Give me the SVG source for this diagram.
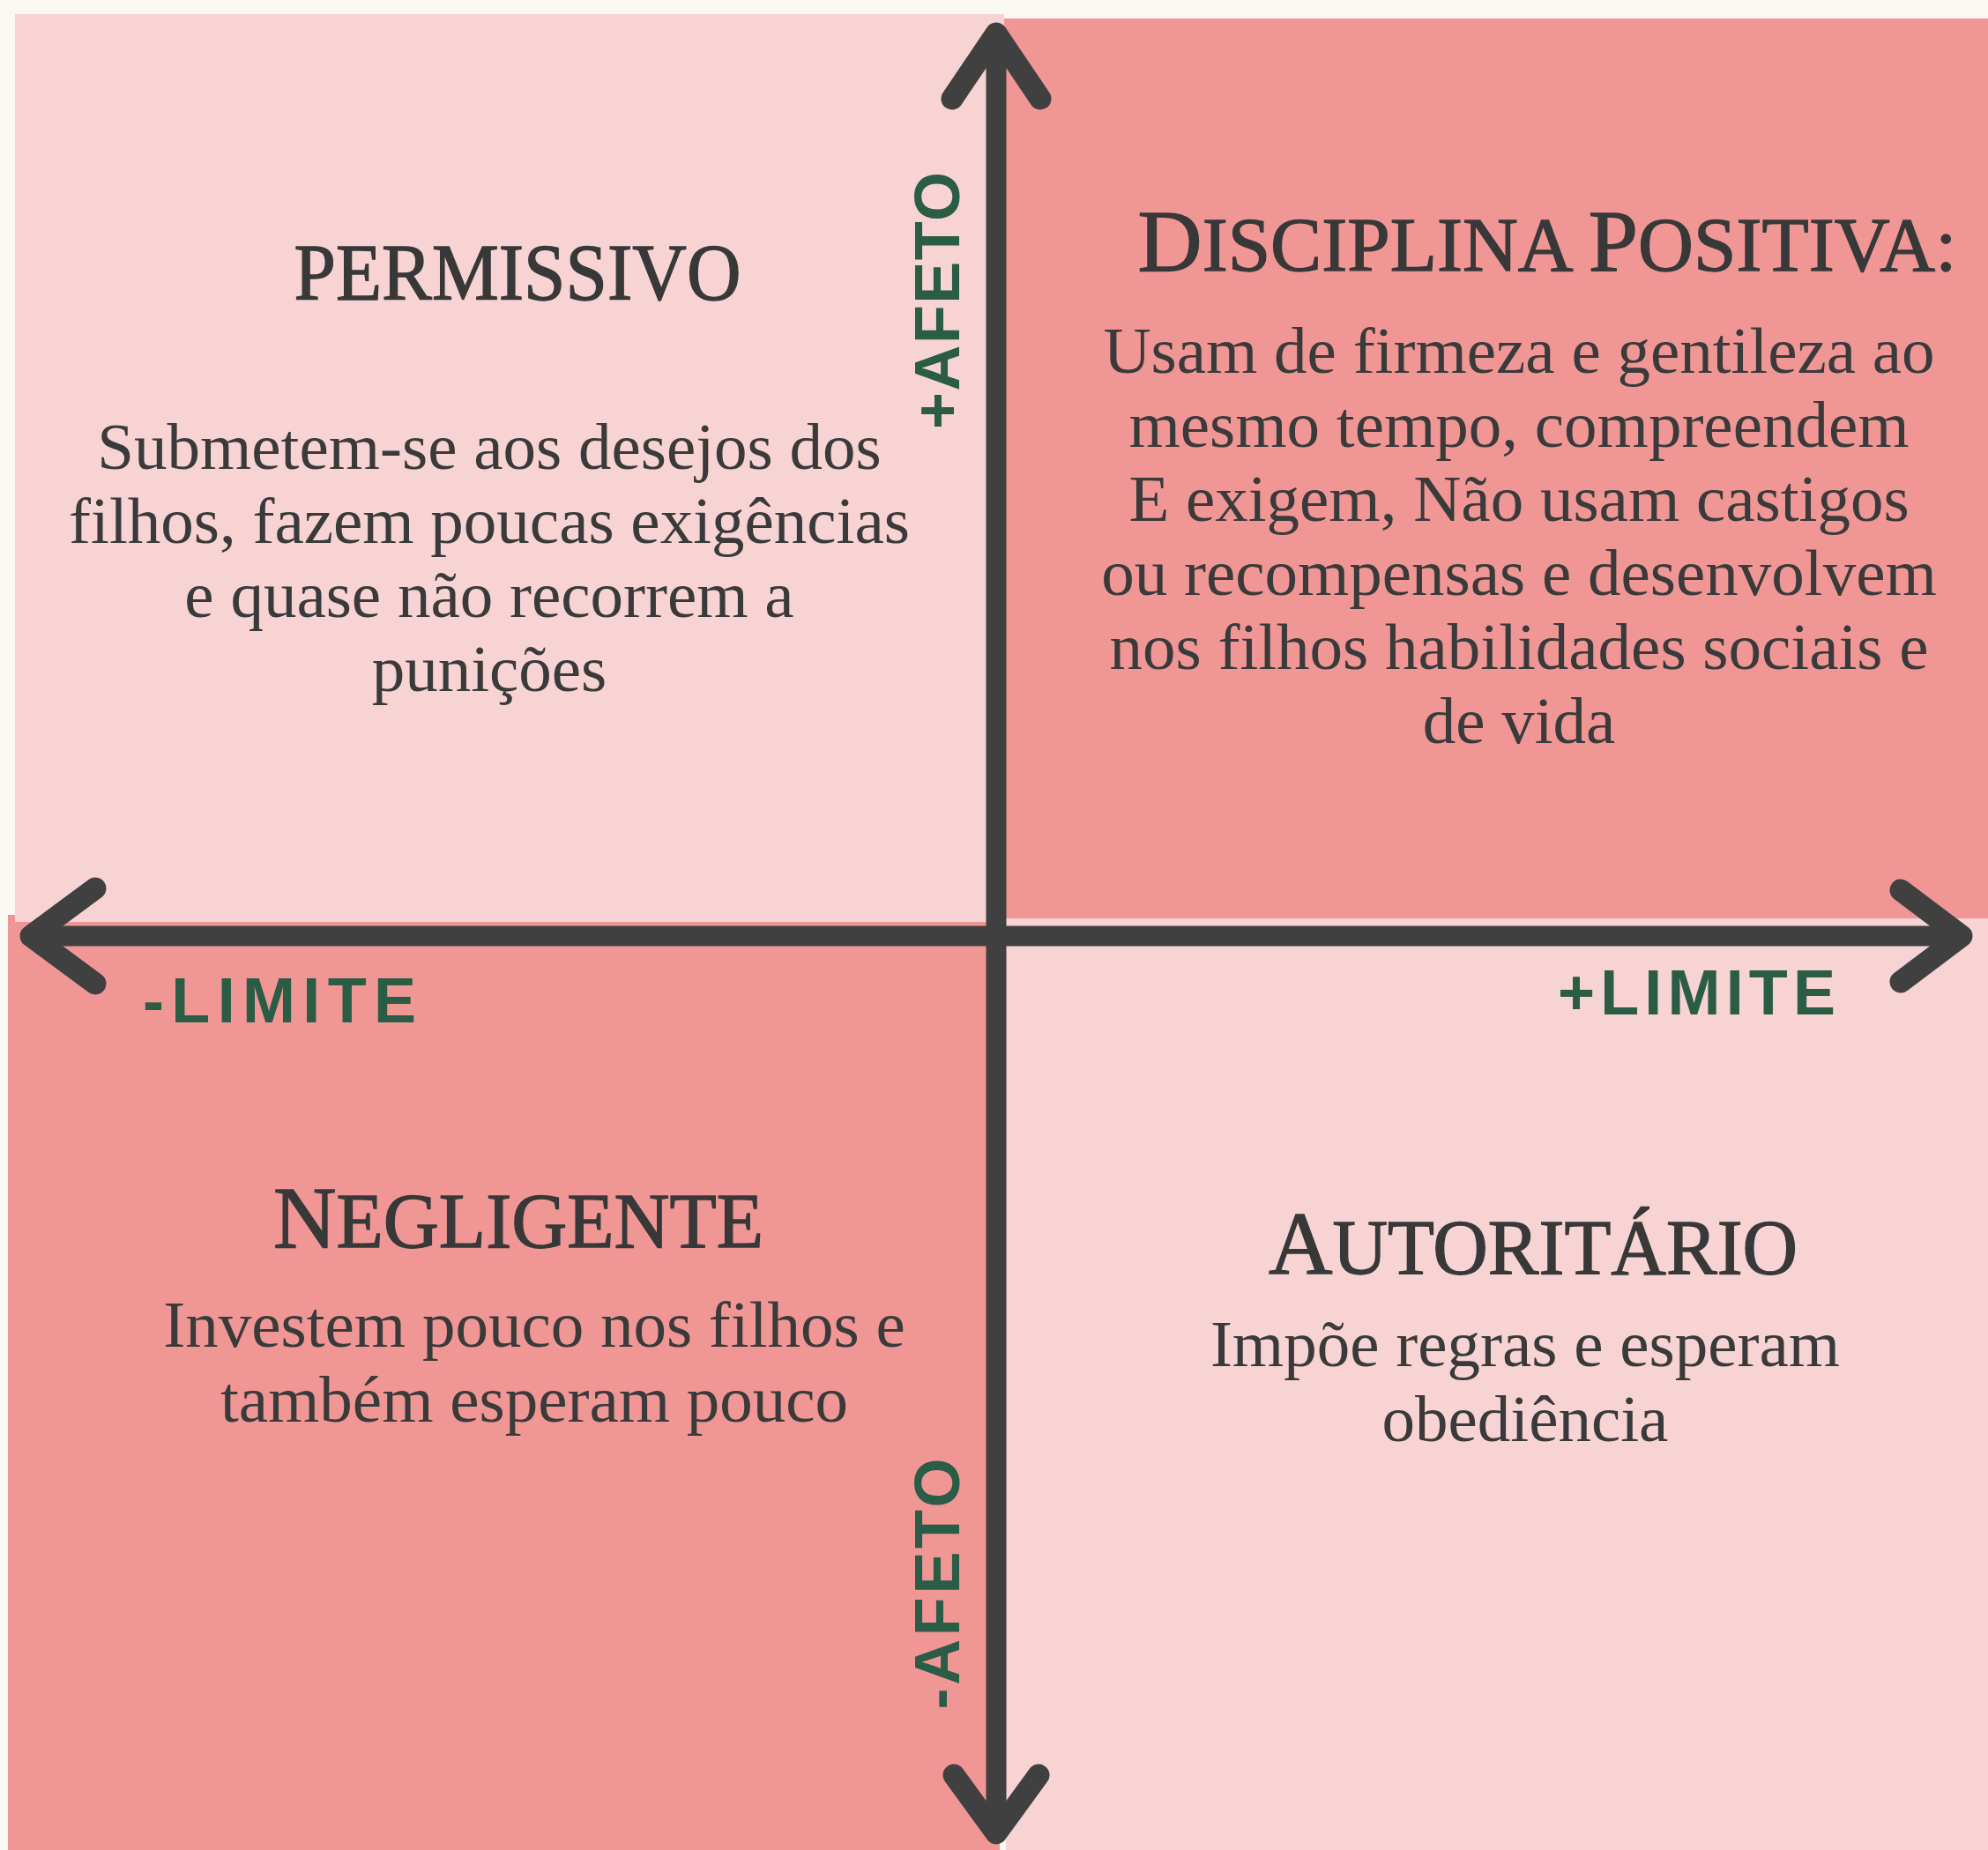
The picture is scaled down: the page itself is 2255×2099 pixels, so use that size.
<svg xmlns="http://www.w3.org/2000/svg" width="2255" height="2099" viewBox="0 0 2255 2099">
  <style>
    .light { fill: #F7D3D3; }
    .dark { fill: #F09796; }
    .title { font-family: "Liberation Serif", "Times New Roman", serif; fill: #383838; stroke: #383838; stroke-width: 1.3; text-anchor: middle; }
    .body { font-family: "Liberation Serif", "Times New Roman", serif; font-size: 75px; fill: #3a3a3a; text-anchor: middle; }
    .axislbl { font-family: "Liberation Sans", Arial, sans-serif; font-weight: bold; font-size: 72px; fill: #2A5C46; }
    .axis { stroke: #404040; stroke-width: 23; fill: none; }
    .head { stroke: #404040; stroke-width: 25; fill: none; stroke-linecap: round; stroke-linejoin: round; }
  </style>
  <rect x="0" y="0" width="2255" height="2099" fill="#FAF8F3"/>

  <g id="negligente">
    <rect class="dark" x="9" y="1038" width="1125" height="1061"/>
    <text class="title" x="588" y="1415" textLength="556" lengthAdjust="spacingAndGlyphs"><tspan font-size="100">N</tspan><tspan font-size="88">EGLIGENTE</tspan></text>
    <text class="body" x="606" y="1528">Investem pouco nos filhos e</text>
    <text class="body" x="606" y="1613">também esperam pouco</text>
  </g>

  <g id="permissivo">
    <rect class="light" x="17" y="16" width="1122" height="1030"/>
    <text class="title" x="587" y="340" font-size="90" textLength="507" lengthAdjust="spacingAndGlyphs">PERMISSIVO</text>
    <text class="body" x="555" y="532">Submetem-se aos desejos dos</text>
    <text class="body" x="555" y="616">filhos, fazem poucas exigências</text>
    <text class="body" x="555" y="700">e quase não recorrem a</text>
    <text class="body" x="555" y="784">punições</text>
  </g>

  <g id="disciplina-positiva">
    <rect class="dark" x="1139" y="21" width="1116" height="1021"/>
    <text class="title" x="1755" y="307" textLength="929" lengthAdjust="spacingAndGlyphs"><tspan font-size="100">D</tspan><tspan font-size="86">ISCIPLINA </tspan><tspan font-size="100">P</tspan><tspan font-size="86">OSITIVA:</tspan></text>
    <text class="body" x="1723" y="423">Usam de firmeza e gentileza ao</text>
    <text class="body" x="1723" y="507">mesmo tempo, compreendem</text>
    <text class="body" x="1723" y="591">E exigem, Não usam castigos</text>
    <text class="body" x="1723" y="675">ou recompensas e desenvolvem</text>
    <text class="body" x="1723" y="759">nos filhos habilidades sociais e</text>
    <text class="body" x="1723" y="843">de vida</text>
  </g>

  <g id="autoritario">
    <rect class="light" x="1141" y="1042" width="1114" height="1057"/>
    <text class="title" x="1739" y="1445" textLength="600" lengthAdjust="spacingAndGlyphs"><tspan font-size="102">A</tspan><tspan font-size="88">UTORITÁRIO</tspan></text>
    <text class="body" x="1730" y="1550">Impõe regras e esperam</text>
    <text class="body" x="1730" y="1635">obediência</text>
  </g>

  <g id="connectors">
    <line class="axis" x1="1130" y1="40" x2="1130" y2="2078"/>
    <line class="axis" x1="36" y1="1062" x2="2224" y2="1062"/>
    <polyline class="head" points="1080,112 1130,38 1180,112"/>
    <polyline class="head" points="1082,2014 1130,2080 1178,2014"/>
    <polyline class="head" points="108,1008 35,1062 108,1116"/>
    <polyline class="head" points="2156,1010 2225,1062 2156,1114"/>
  </g>

  <g id="axis-labels">
    <text class="axislbl" x="162" y="1160" textLength="310" lengthAdjust="spacing">-LIMITE</text>
    <text class="axislbl" x="1767" y="1151" textLength="315" lengthAdjust="spacing">+LIMITE</text>
    <text class="axislbl" transform="translate(1088,341) rotate(-90)" x="0" y="0" text-anchor="middle" textLength="292" lengthAdjust="spacing">+AFETO</text>
    <text class="axislbl" transform="translate(1088,1797) rotate(-90)" x="0" y="0" text-anchor="middle" textLength="285" lengthAdjust="spacing">-AFETO</text>
  </g>
</svg>
